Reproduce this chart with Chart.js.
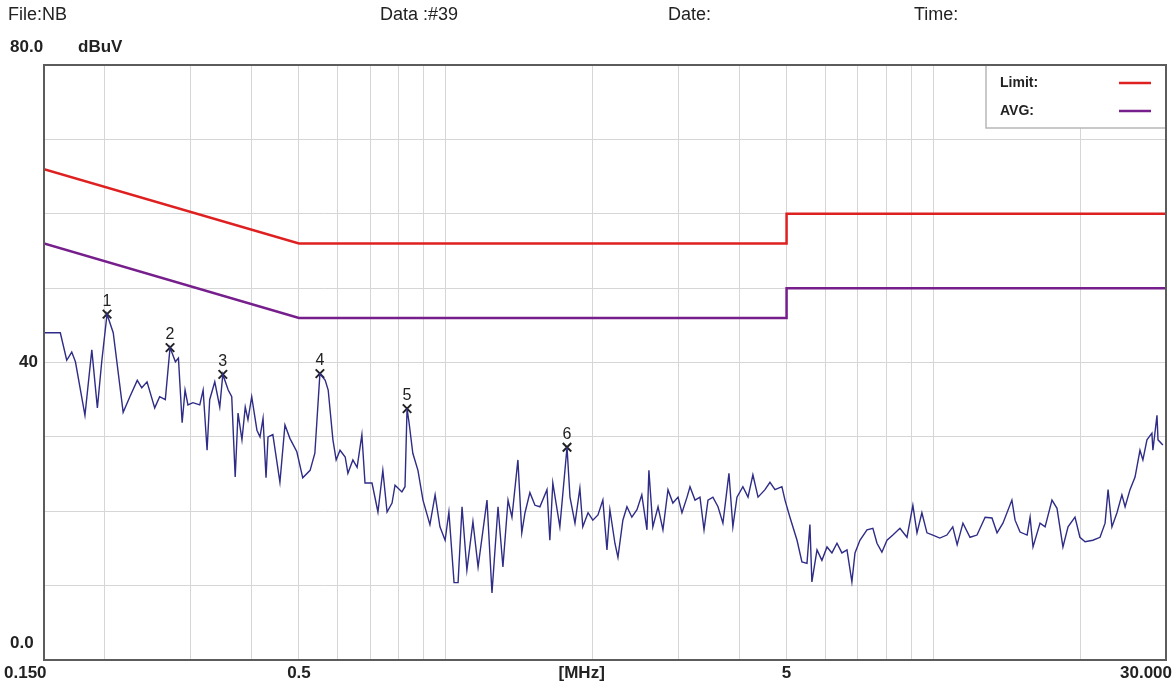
<!DOCTYPE html>
<html>
<head>
<meta charset="utf-8">
<script src="https://cdn.jsdelivr.net/npm/chart.js@4.4.1/dist/chart.umd.min.js"></script>
<style>
    html, body { margin: 0; padding: 0; background: #fff; }
    #wrap { position: relative; width: 1175px; height: 683px; }
    .hdr { position: absolute; top: 4px; font: 18px 'Liberation Sans', Arial, sans-serif; color: #222; }
</style>
</head>
<body>
<div id="wrap">
    <canvas id="emiScan" width="1175" height="683"></canvas>
    <div class="hdr" style="left:8px">File:NB</div>
    <div class="hdr" style="left:380px">Data :#39</div>
    <div class="hdr" style="left:668px">Date:</div>
    <div class="hdr" style="left:914px">Time:</div>
</div>
<script>
// measured trace (MHz / dBuV)
const scanFreqs = [
    0.150, 0.162, 0.167, 0.171, 0.174, 0.182, 0.188, 0.193, 0.197, 0.202,
    0.208, 0.218, 0.225, 0.233, 0.238, 0.244, 0.253, 0.259, 0.266, 0.272,
    0.279, 0.283, 0.288, 0.292, 0.296, 0.303, 0.313, 0.318, 0.324, 0.328,
    0.336, 0.344, 0.349, 0.358, 0.364, 0.370, 0.375, 0.382, 0.388, 0.393,
    0.400, 0.410, 0.416, 0.422, 0.428, 0.432, 0.442, 0.457, 0.468, 0.479,
    0.495, 0.509, 0.527, 0.539, 0.552, 0.566, 0.574, 0.587, 0.596, 0.607,
    0.622, 0.630, 0.645, 0.658, 0.673, 0.683, 0.706, 0.726, 0.743, 0.758,
    0.776, 0.787, 0.813, 0.825, 0.833, 0.841, 0.856, 0.877, 0.898, 0.928,
    0.951, 0.973, 0.997, 1.015, 1.040, 1.060, 1.080, 1.105, 1.137, 1.165,
    1.215, 1.244, 1.280, 1.310, 1.342, 1.367, 1.406, 1.432, 1.454, 1.488,
    1.524, 1.560, 1.613, 1.635, 1.658, 1.714, 1.773, 1.798, 1.841, 1.884,
    1.910, 1.958, 2.003, 2.052, 2.100, 2.141, 2.171, 2.223, 2.255, 2.308,
    2.353, 2.408, 2.467, 2.524, 2.586, 2.610, 2.659, 2.725, 2.789, 2.856,
    2.923, 2.995, 3.051, 3.125, 3.169, 3.245, 3.322, 3.386, 3.450, 3.531,
    3.617, 3.702, 3.809, 3.880, 3.956, 4.068, 4.168, 4.265, 4.370, 4.516,
    4.623, 4.734, 4.891, 4.963, 5.080, 5.253, 5.376, 5.506, 5.583, 5.635,
    5.773, 5.908, 6.052, 6.194, 6.344, 6.493, 6.651, 6.807, 6.907, 7.070,
    7.309, 7.516, 7.663, 7.843, 8.034, 8.260, 8.540, 8.829, 9.078, 9.256,
    9.473, 9.703, 9.977, 10.31, 10.66, 10.96, 11.19, 11.50, 11.89, 12.29,
    12.77, 13.19, 13.51, 13.89, 14.49, 14.71, 15.06, 15.57, 15.79, 16.01,
    16.55, 16.95, 17.51, 17.93, 18.44, 18.89, 19.52, 19.98, 20.47, 21.24,
    21.97, 22.50, 22.82, 23.24, 23.80, 24.36, 24.73, 25.31, 25.92, 26.53,
    26.90, 27.42, 28.07, 28.20, 28.75, 28.89, 29.56
];
const scanLevels = [
    44.0, 44.0, 40.3, 41.4, 40.1, 32.9, 41.7, 33.9, 40.1, 46.5,
    44.0, 33.3, 35.4, 37.6, 36.6, 37.4, 33.9, 35.4, 35.0, 42.0,
    40.1, 40.6, 31.9, 36.3, 34.3, 34.6, 34.3, 36.3, 28.2, 35.0,
    37.4, 34.0, 38.4, 36.3, 35.4, 24.6, 33.2, 29.6, 34.0, 32.3,
    35.4, 30.9, 30.0, 32.5, 24.5, 30.0, 30.3, 23.9, 31.6, 29.8,
    28.0, 24.5, 25.5, 27.8, 38.5, 37.6, 36.3, 29.6, 26.9, 28.2,
    27.3, 25.1, 26.9, 25.9, 30.3, 23.8, 23.8, 19.9, 25.5, 19.9,
    21.1, 23.5, 22.6, 23.3, 33.8, 31.9, 27.8, 25.5, 21.5, 18.2,
    22.2, 17.9, 16.1, 19.9, 10.4, 10.4, 20.6, 12.1, 18.6, 12.5,
    21.5, 9.0, 20.6, 12.5, 21.5, 19.2, 26.9, 17.1, 19.8, 22.5,
    20.8, 20.6, 22.9, 16.1, 23.8, 17.9, 28.6, 21.9, 18.4, 23.1,
    17.9, 19.8, 18.8, 19.5, 21.5, 14.8, 20.2, 15.7, 13.8, 18.8,
    20.6, 19.2, 20.2, 22.2, 17.5, 25.5, 17.9, 20.6, 17.5, 22.9,
    21.1, 21.9, 19.8, 21.9, 23.3, 21.5, 21.9, 17.5, 21.5, 21.9,
    20.6, 18.4, 25.1, 17.9, 21.9, 23.3, 21.9, 24.9, 21.9, 22.9,
    23.9, 22.9, 23.3, 21.5, 19.2, 16.1, 13.2, 13.0, 18.2, 10.5,
    14.8, 13.4, 15.2, 14.4, 15.7, 14.4, 14.8, 10.5, 14.4, 16.1,
    17.5, 17.7, 15.7, 14.5, 16.1, 16.8, 17.7, 16.5, 20.8, 17.1,
    19.8, 17.1, 16.8, 16.4, 16.8, 17.9, 15.5, 18.4, 16.5, 16.8,
    19.2, 19.1, 17.1, 18.4, 21.5, 18.8, 17.2, 16.8, 19.2, 15.2,
    18.4, 17.9, 21.5, 20.4, 15.2, 17.9, 19.2, 16.5, 15.9, 16.1,
    16.5, 18.4, 22.9, 17.9, 19.8, 22.2, 20.6, 22.9, 24.6, 28.2,
    26.9, 29.6, 30.5, 28.2, 32.9, 29.6, 28.9
];

// limit lines (QP limit and AVG limit)
const limitFreqs = [0.15, 0.5, 5, 5, 30];
const qpLimit = [66, 56, 56, 60, 60];
const avgLimit = [56, 46, 46, 50, 50];

// marked peaks
const peakLabels = ['1', '2', '3', '4', '5', '6'];
const peakFreqs = [0.202, 0.272, 0.349, 0.552, 0.833, 1.773];
const peakLevels = [46.5, 42.0, 38.4, 38.5, 33.8, 28.6];

// axes
const gridFreqs = [0.15, 0.2, 0.3, 0.4, 0.5, 0.6, 0.7, 0.8, 0.9, 1, 2, 3, 4, 5, 6, 7, 8, 9, 10, 20, 30];
const xTickLabels = ['0.150', '0.5', '5', '30.000'];
const xTickValues = [0.15, 0.5, 5, 30];
const yTickLabels = ['80.0', '40', '0.0'];
const yTickValues = [80, 40, 0];

const toXY = (xs, ys) => xs.map((x, i) => ({ x: x, y: ys[i] }));

const labelFont = "bold 17px 'Liberation Sans', Arial, sans-serif";

const overlayPlugin = {
    id: 'overlay',
    afterDatasetsDraw(chart) {
        const ctx = chart.ctx;
        const area = chart.chartArea;
        const xs = chart.scales.x;
        const ys = chart.scales.y;
        ctx.save();

        // frame
        ctx.strokeStyle = '#5c5c5c';
        ctx.lineWidth = 2;
        ctx.strokeRect(area.left, area.top, area.right - area.left, area.bottom - area.top);

        // peak numbers
        const markerMeta = chart.getDatasetMeta(3);
        ctx.fillStyle = '#222';
        ctx.font = "16px 'Liberation Sans', Arial, sans-serif";
        ctx.textAlign = 'center';
        ctx.textBaseline = 'bottom';
        markerMeta.data.forEach((pt, i) => {
            ctx.fillText(peakLabels[i], pt.x, pt.y - 5);
        });

        // y labels
        ctx.font = labelFont;
        ctx.textBaseline = 'middle';
        ctx.textAlign = 'left';
        yTickLabels.forEach((lab, i) => {
            let y = ys.getPixelForValue(yTickValues[i]);
            let x = 19;
            if (yTickValues[i] === 80) { y -= 18; x = 10; }
            if (yTickValues[i] === 0) { y -= 17; x = 10; }
            ctx.fillText(lab, x, y);
        });
        ctx.fillText('dBuV', 78, ys.getPixelForValue(80) - 18);

        // x labels
        const ly = area.bottom + 13;
        xTickLabels.forEach((lab, i) => {
            const x = xs.getPixelForValue(xTickValues[i]);
            if (i === 0) { ctx.textAlign = 'left'; ctx.fillText(lab, 4, ly); }
            else if (i === xTickLabels.length - 1) { ctx.textAlign = 'right'; ctx.fillText(lab, x + 6, ly); }
            else { ctx.textAlign = 'center'; ctx.fillText(lab, x, ly); }
        });
        ctx.textAlign = 'center';
        ctx.fillText('[MHz]', xs.getPixelForValue(1.9), ly);

        // legend box
        const bx = 986, by = area.top + 1, bw = area.right - 987, bh = 62;
        ctx.fillStyle = '#fff';
        ctx.fillRect(bx, by, bw, bh);
        ctx.strokeStyle = '#b8b8b8';
        ctx.lineWidth = 1.5;
        ctx.beginPath();
        ctx.moveTo(bx, by);
        ctx.lineTo(bx, by + bh);
        ctx.lineTo(bx + bw, by + bh);
        ctx.stroke();
        ctx.font = "bold 14px 'Liberation Sans', Arial, sans-serif";
        ctx.textAlign = 'left';
        const legendRows = [['Limit:', chart.data.datasets[1].borderColor], ['AVG:', chart.data.datasets[2].borderColor]];
        legendRows.forEach((row, i) => {
            const ry = by + 17 + i * 28;
            ctx.fillStyle = '#222';
            ctx.fillText(row[0], bx + 14, ry);
            ctx.strokeStyle = row[1];
            ctx.lineWidth = 2.5;
            ctx.beginPath();
            ctx.moveTo(bx + 133, ry);
            ctx.lineTo(bx + 165, ry);
            ctx.stroke();
        });

        ctx.restore();
    }
};

const emiCtx = document.getElementById('emiScan').getContext('2d');

new Chart(emiCtx, {
    type: 'line',
    data: {
        datasets: [
            {
                label: 'Scan',
                data: toXY(scanFreqs, scanLevels),
                borderColor: 'rgb(46, 44, 134)',
                borderWidth: 1.4,
                pointRadius: 0,
                tension: 0
            },
            {
                label: 'Limit',
                data: toXY(limitFreqs, qpLimit),
                borderColor: 'rgb(222, 32, 32)',
                borderWidth: 2.5,
                pointRadius: 0,
                tension: 0
            },
            {
                label: 'AVG',
                data: toXY(limitFreqs, avgLimit),
                borderColor: 'rgb(118, 30, 140)',
                borderWidth: 2.5,
                pointRadius: 0,
                tension: 0
            },
            {
                label: 'Peaks',
                data: toXY(peakFreqs, peakLevels),
                showLine: false,
                pointStyle: 'crossRot',
                pointRadius: 6,
                borderColor: '#222',
                borderWidth: 2
            }
        ]
    },
    options: {
        responsive: false,
        animation: false,
        layout: { padding: { left: 44, right: 9, top: 65, bottom: 23 } },
        plugins: {
            legend: { display: false },
            tooltip: { enabled: false }
        },
        scales: {
            x: {
                type: 'logarithmic',
                min: 0.15,
                max: 30,
                afterBuildTicks: (scale) => {
                    scale.ticks = gridFreqs.map(v => ({ value: v }));
                },
                ticks: { display: false },
                grid: { color: '#d6d6d6', lineWidth: 1, drawTicks: false },
                border: { display: false }
            },
            y: {
                min: 0,
                max: 80,
                ticks: { display: false, stepSize: 10 },
                grid: { color: '#d6d6d6', lineWidth: 1, drawTicks: false },
                border: { display: false }
            }
        }
    },
    plugins: [overlayPlugin]
});
</script>
</body>
</html>
